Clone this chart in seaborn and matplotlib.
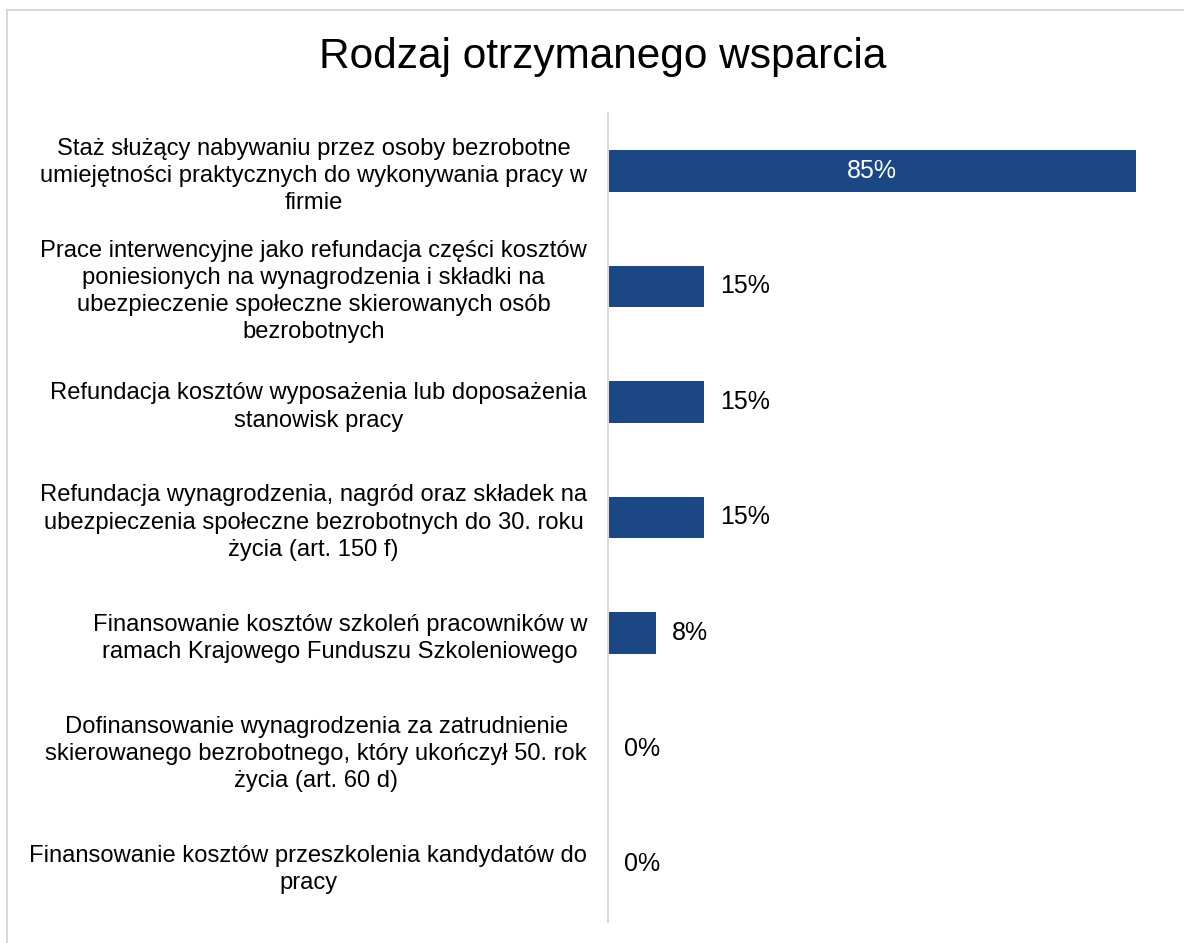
import matplotlib
matplotlib.use("Agg")
import pandas as pd
import seaborn as sns
import matplotlib.pyplot as plt
from matplotlib.patches import Rectangle

categories = [
    "Staż służący nabywaniu przez osoby bezrobotne\numiejętności praktycznych do wykonywania pracy w\nfirmie",
    "Prace interwencyjne jako refundacja części kosztów\nponiesionych na wynagrodzenia i składki na\nubezpieczenie społeczne skierowanych osób\nbezrobotnych",
    "Refundacja kosztów wyposażenia lub doposażenia\nstanowisk pracy",
    "Refundacja wynagrodzenia, nagród oraz składek na\nubezpieczenia społeczne bezrobotnych do 30. roku\nżycia (art. 150 f)",
    "Finansowanie kosztów szkoleń pracowników w\nramach Krajowego Funduszu Szkoleniowego",
    "Dofinansowanie wynagrodzenia za zatrudnienie\nskierowanego bezrobotnego, który ukończył 50. rok\nżycia (art. 60 d)",
    "Finansowanie kosztów przeszkolenia kandydatów do\npracy",
]
values = [84.6, 15.4, 15.4, 15.4, 7.7, 0, 0]

df = pd.DataFrame({"category": categories, "value": values})

sns.set_style("white")
plt.rcParams["font.family"] = ["Liberation Sans", "DejaVu Sans"]
plt.rcParams["text.color"] = "black"
plt.rcParams["ytick.color"] = "black"
plt.rcParams["ytick.labelcolor"] = "black"

fig = plt.figure(figsize=(11.84, 9.43), dpi=100)
ax = fig.add_axes([608 / 1184, 1 - 922 / 943, (1170 - 608) / 1184, (922 - 113) / 943])

sns.barplot(data=df, x="value", y="category", color="#1B4884", width=0.36,
            saturation=1, linewidth=0, ax=ax)

ax.set_xlim(0, 90)
ax.set_xlabel("")
ax.set_ylabel("")
ax.set_xticks([])
for s in ["top", "right", "bottom"]:
    ax.spines[s].set_visible(False)
ax.spines["left"].set_color("#d9d9d9")
ax.spines["left"].set_linewidth(1.5)
ax.tick_params(axis="y", length=0, pad=15)
for lbl in ax.get_yticklabels():
    lbl.set_multialignment("center")
    lbl.set_fontsize(17.1)
    lbl.set_linespacing(1.3)
    lbl.set_color("black")

for i, v in enumerate(values):
    txt = f"{v:.0f}%"
    if v > 50:
        ax.text(v / 2, i, txt, color="white", ha="center", va="center", fontsize=18)
    else:
        ax.text(v + 2.5, i, txt, color="black", ha="left", va="center", fontsize=18)

fig.text(603 / 1184, 1 - 57 / 943, "Rodzaj otrzymanego wsparcia", ha="center",
         va="center", fontsize=30.5)

fig.patches.append(Rectangle((7 / 1184, -0.1), 1.2, 1 - 10 / 943 + 0.1,
                             transform=fig.transFigure, fill=False,
                             edgecolor="#d9d9d9", linewidth=1.5))

fig.savefig("out.png", dpi=100)
